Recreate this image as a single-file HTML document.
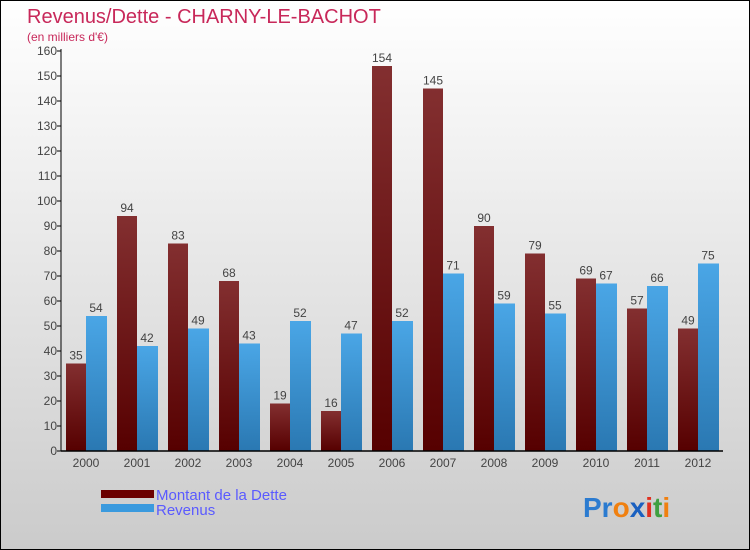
<!DOCTYPE html>
<html><head><meta charset="utf-8"><style>
body{margin:0}
#c{position:relative;width:748px;height:548px;border:1px solid #000;background:linear-gradient(#fff,#f0f0f0 30%,#cbcbcb);font-family:"Liberation Sans",sans-serif;overflow:hidden}
</style></head><body>
<div id="c">
<svg id="s" width="748" height="548">
<defs>
<linearGradient id="gd" x1="0" y1="0" x2="0" y2="1"><stop offset="0" stop-color="#832f30"/><stop offset="1" stop-color="#560000"/></linearGradient>
<linearGradient id="gr" x1="0" y1="0" x2="0" y2="1"><stop offset="0" stop-color="#4aa6e6"/><stop offset="1" stop-color="#2a78b2"/></linearGradient>
</defs>
<text x="26" y="22" font-size="20" fill="#c8285a">Revenus/Dette - CHARNY-LE-BACHOT</text>
<text x="26" y="40" font-size="12" fill="#c8285a">(en milliers d'€)</text>
<g id="g"></g>
<rect x="100" y="489" width="53" height="8" fill="#6b0000"/>
<rect x="100" y="503" width="53" height="8" fill="#3a9ade"/>
<text x="155" y="499" font-size="15" fill="#5a5aff">Montant de la Dette</text>
<text x="155" y="514" font-size="15" fill="#5a5aff">Revenus</text>
<text x="582" y="516" font-size="28" font-weight="bold"><tspan fill="#2b7bd0">Pr</tspan><tspan fill="#f08010">o</tspan><tspan fill="#1a60c0">x</tspan><tspan fill="#e03020">i</tspan><tspan fill="#40a040">t</tspan><tspan fill="#f08010">i</tspan></text>
</svg>
</div>
<script>
const years=["2000","2001","2002","2003","2004","2005","2006","2007","2008","2009","2010","2011","2012"];
const dette=[35,94,83,68,19,16,154,145,90,79,69,57,49];
const revenus=[54,42,49,43,52,47,52,71,59,55,67,66,75];
const ticks=[0,10,20,30,40,50,60,70,80,90,100,110,120,130,140,150,160];
const NS="http://www.w3.org/2000/svg";
const g=document.getElementById('g');
const y=v=>450-v*2.5, x0=i=>65+i*51;
function el(t,a,txt){const e=document.createElementNS(NS,t);for(const k in a)e.setAttribute(k,a[k]);if(txt!==undefined)e.textContent=txt;g.appendChild(e);return e;}
ticks.forEach(t=>{
 const l=el('line',{x1:56,x2:60,y1:y(t),y2:y(t),stroke:'#000'});
 
 
 const tx=el('text',{x:56,y:y(t)+4,'font-size':12,'text-anchor':'end',fill:'#444'},t);
 
 
});
years.forEach((yr,i)=>{
 const b1=el('rect',{x:x0(i),y:y(dette[i]),width:20,height:dette[i]*2.5,fill:'url(#gd)'});
 
 
 const b2=el('rect',{x:x0(i)+20,y:y(revenus[i]),width:21,height:revenus[i]*2.5,fill:'url(#gr)'});
 
 
 const v1=el('text',{x:x0(i)+10,y:y(dette[i])-4,'font-size':12,'text-anchor':'middle',fill:'#444'},dette[i]);
 
 
 const v2=el('text',{x:x0(i)+30,y:y(revenus[i])-4,'font-size':12,'text-anchor':'middle',fill:'#444'},revenus[i]);
 
 
 const xl=el('text',{x:x0(i)+20,y:466,'font-size':12,'text-anchor':'middle',fill:'#444'},yr);
 
 
});
const ya=el('line',{x1:60,x2:60,y1:48,y2:450,stroke:'#000'});


const xa=el('line',{x1:60,x2:722,y1:450,y2:450,stroke:'#000','stroke-width':1.5});


</script>
</body></html>
